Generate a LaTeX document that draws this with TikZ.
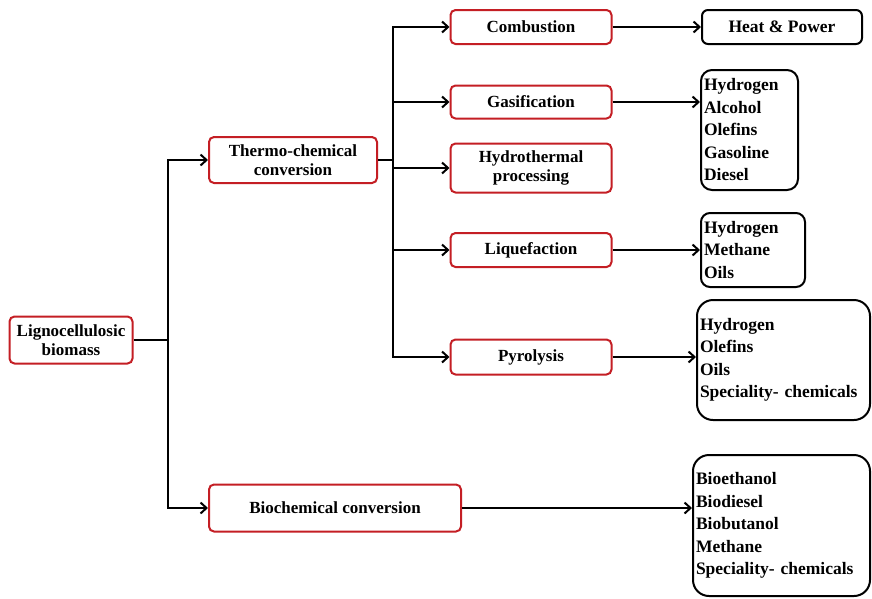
\documentclass[tikz,border=0pt]{standalone}
\usepackage{fontspec}
\setmainfont{Liberation Serif}
\usetikzlibrary{arrows.meta}
\definecolor{boxred}{RGB}{196,30,36}
\tikzset{
  redbox/.style={draw=boxred, line width=2pt, rounded corners=5pt, fill=white,
    font=\bfseries\fontsize{17}{19.5}\selectfont, align=center, inner sep=0pt},
  outbox/.style={draw=black, line width=2pt, rounded corners=11pt, fill=white,
    font=\bfseries\fontsize{17.5}{22.5}\selectfont, align=left, inner xsep=3pt, inner ysep=0pt},
  conn/.style={line width=2pt, -{Straight Barb[length=6pt,width=11pt,line width=2pt]}},
  plainline/.style={line width=2pt}
}
\begin{document}
\begin{tikzpicture}[x=1pt,y=-1pt]
\useasboundingbox[fill=white] (0,0) rectangle (872,598);

% red boxes
\node[redbox, minimum width=123, minimum height=47] (lig) at (71,340) {Lignocellulosic\\biomass};
\node[redbox, minimum width=168, minimum height=46] (thermo) at (293,160) {Thermo-chemical\\conversion};
\node[redbox, minimum width=252, minimum height=47] (bio) at (335,508) {Biochemical conversion};
\node[redbox, minimum width=161, minimum height=34] (comb) at (531,27) {Combustion};
\node[redbox, minimum width=161, minimum height=33] (gas) at (531,102) {Gasification};
\node[redbox, minimum width=161, minimum height=49] (hydro) at (531,168) {Hydrothermal\\processing};
\node[redbox, minimum width=161, minimum height=34] (liq) at (531,250) {Liquefaction};
\node[redbox, minimum width=161, minimum height=35] (pyro) at (531,357) {Pyrolysis};

% output boxes
\node[outbox, align=center, rounded corners=6pt, minimum width=160, minimum height=34] (heat) at (782,27) {Heat \& Power};
\node[outbox, text width=91pt, minimum height=120] (gasout) at (749.5,130) {Hydrogen\\Alcohol\\Olefins\\Gasoline\\Diesel};
\node[outbox, rounded corners=9pt, text width=98pt, minimum height=74] (liqout) at (753,250) {Hydrogen\\Methane\\Oils};
\node[outbox, rounded corners=16pt, text width=167pt, minimum height=120] (pyroout) at (783.5,360) {Hydrogen\\Olefins\\Oils\\Speciality- chemicals};
\node[outbox, rounded corners=16pt, text width=171pt, minimum height=141] (bioout) at (781.5,525.5) {Bioethanol\\Biodiesel\\Biobutanol\\Methane\\Speciality- chemicals};

% first branching
\coordinate (t1) at (168,340);
\draw[plainline] (lig.east) -- (t1);
\draw[conn] (t1) |- (thermo.west);
\draw[conn] (t1) |- (bio.west);

% second branching
\coordinate (t2) at (393,160);
\draw[plainline] (thermo.east) -- (t2);
\draw[conn] (t2) |- (comb.west);
\draw[conn] (t2) |- (gas.west);
\draw[conn] (t2) |- (hydro.west);
\draw[conn] (t2) |- (liq.west);
\draw[conn] (t2) |- (pyro.west);

% outputs
\draw[conn] (comb.east) -- (heat.west);
\draw[conn] (gas.east) -- (gas.east -| gasout.west);
\draw[conn] (liq.east) -- (liq.east -| liqout.west);
\draw[conn] (pyro.east) -- (pyro.east -| pyroout.west);
\draw[conn] (bio.east) -- (bio.east -| bioout.west);
\end{tikzpicture}
\end{document}
